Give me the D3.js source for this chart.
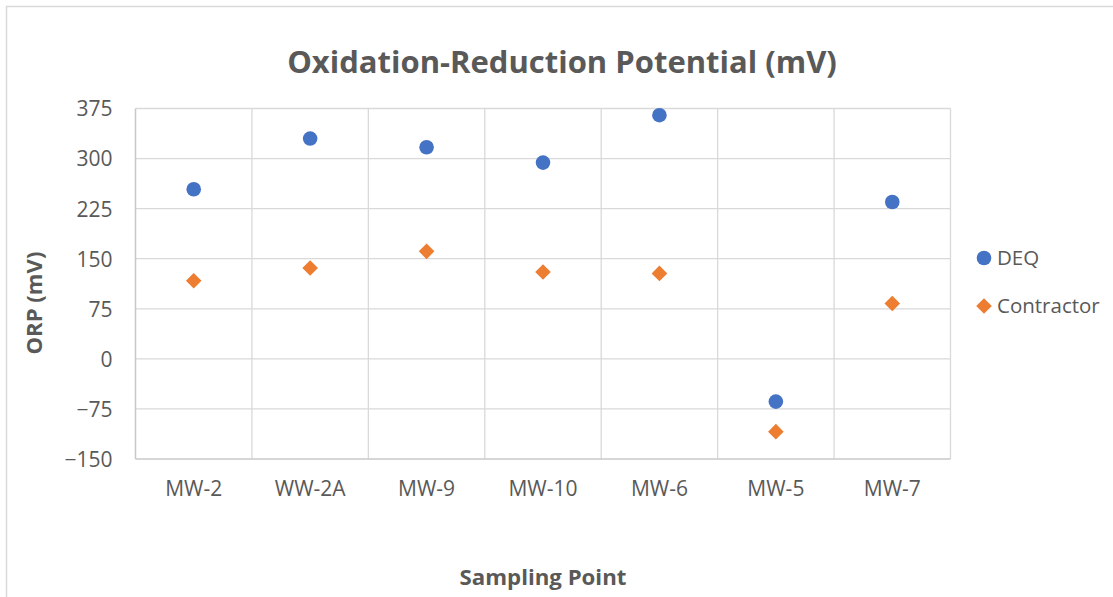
<!DOCTYPE html>
<html>
<head>
<meta charset="utf-8">
<script src="https://cdn.jsdelivr.net/npm/d3@7"></script>
<style>
  html, body { margin: 0; padding: 0; background: #fff; }
  svg { display: block; }
  text { font-family: "Open Sans", "Noto Sans", sans-serif; fill: #595959; }
</style>
</head>
<body>
<svg id="chart" width="1113" height="597"></svg>
<script>
const categories = ["MW-2", "WW-2A", "MW-9", "MW-10", "MW-6", "MW-5", "MW-7"];
const deqValues = [254, 330, 317, 294, 365, -64, 235];
const contractorValues = [117, 136, 161, 130, 128, -109, 83];
const yTicks = [-150, -75, 0, 75, 150, 225, 300, 375];
const seriesNames = ["DEQ", "Contractor"];
const titleText = "Oxidation-Reduction Potential (mV)";
const xTitle = "Sampling Point";
const yTitle = "ORP (mV)";

const svg = d3.select("#chart");
const W = 1113, H = 597;
const plot = { left: 135.5, right: 950.5, top: 108.5, bottom: 459 };

// chart border
svg.append("rect").attr("x", 6.5).attr("y", 6.5).attr("width", W + 20).attr("height", H + 20)
  .attr("fill", "#fff").attr("stroke", "#d9d9d9").attr("stroke-width", 1.5);

const x = d3.scaleBand().domain(categories).range([plot.left, plot.right]).padding(0);
const y = d3.scaleLinear().domain([-150, 375]).range([plot.bottom, plot.top]);

// horizontal gridlines
svg.append("g").selectAll("line").data(yTicks.filter(d => d !== -150)).join("line")
  .attr("x1", plot.left).attr("x2", plot.right)
  .attr("y1", d => y(d)).attr("y2", d => y(d))
  .attr("stroke", "#d9d9d9").attr("stroke-width", 1.3);

// vertical gridlines at category boundaries
const bounds = categories.map(c => x(c)).concat([x(categories[categories.length - 1]) + x.bandwidth()]);
svg.append("g").selectAll("line").data(bounds.slice(1)).join("line")
  .attr("x1", d => d).attr("x2", d => d)
  .attr("y1", plot.top).attr("y2", plot.bottom)
  .attr("stroke", "#d9d9d9").attr("stroke-width", 1.3);

// axis lines
svg.append("line").attr("x1", plot.left).attr("x2", plot.left).attr("y1", plot.top).attr("y2", plot.bottom)
  .attr("stroke", "#c8c8c8").attr("stroke-width", 1.5);
svg.append("line").attr("x1", plot.left).attr("x2", plot.right).attr("y1", plot.bottom).attr("y2", plot.bottom)
  .attr("stroke", "#c8c8c8").attr("stroke-width", 1.5);

// y axis labels
const yAxis = d3.axisLeft(y).tickValues(yTicks).tickSize(0).tickPadding(23);
const gy = svg.append("g").attr("transform", `translate(${plot.left},0)`).call(yAxis);
gy.select(".domain").remove();
gy.selectAll("text").style("font-size", "21px").attr("fill", "#595959").attr("dy", "0.35em");

// x axis labels
const xAxis = d3.axisBottom(x).tickSize(0).tickPadding(22);
const gx = svg.append("g").attr("transform", `translate(0,${plot.bottom})`).call(xAxis);
gx.select(".domain").remove();
gx.selectAll("text").style("font-size", "21px").attr("fill", "#595959").attr("dy", "0.71em");

// markers
const cx = c => x(c) + x.bandwidth() / 2;
svg.append("g").selectAll("circle").data(categories.map((c, i) => ({ c, v: deqValues[i] }))).join("circle")
  .attr("cx", d => cx(d.c)).attr("cy", d => y(d.v)).attr("r", 7.3).attr("fill", "#4472C4");

const diamond = s => `M0,${-s}L${s},0L0,${s}L${-s},0Z`;
svg.append("g").selectAll("path").data(categories.map((c, i) => ({ c, v: contractorValues[i] }))).join("path")
  .attr("d", diamond(7.8)).attr("transform", d => `translate(${cx(d.c)},${y(d.v)})`)
  .attr("fill", "#ED7D31");

// title
const t = svg.append("text").attr("x", 562).attr("y", 73).attr("text-anchor", "middle")
  .style("font-size", "30px").style("font-weight", "bold").text(titleText);
const tw = t.node().getComputedTextLength();
t.style("font-size", (30 * 550 / tw) + "px");

// axis titles
const xt = svg.append("text").attr("x", 543).attr("y", 585).attr("text-anchor", "middle")
  .style("font-size", "19px").style("font-weight", "bold").text(xTitle);
const xtw = xt.node().getComputedTextLength();
xt.style("font-size", (19 * 167 / xtw) + "px");

const yt = svg.append("text").attr("transform", "translate(42,303) rotate(-90)").attr("text-anchor", "middle")
  .style("font-size", "19px").style("font-weight", "bold").text(yTitle);
const ytw = yt.node().getComputedTextLength();
yt.style("font-size", (19 * 103 / ytw) + "px");

// legend
const lg = svg.append("g");
const legY = [258, 306];
lg.append("circle").attr("cx", 984).attr("cy", legY[0]).attr("r", 7.3).attr("fill", "#4472C4");
lg.append("path").attr("d", diamond(7.8)).attr("transform", `translate(984,${legY[1]})`).attr("fill", "#ED7D31");
seriesNames.forEach((n, i) => {
  lg.append("text").attr("x", 997).attr("y", legY[i]).attr("dy", "0.35em")
    .style("font-size", "20.5px").text(n);
});
</script>
</body>
</html>
